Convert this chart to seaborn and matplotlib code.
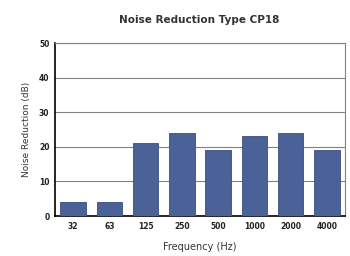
import seaborn as sns
import matplotlib.pyplot as plt
import pandas as pd

freqs = ['32', '63', '125', '250', '500', '1000', '2000', '4000']
reduction = [4, 4, 21, 24, 19, 23, 24, 19]

df = pd.DataFrame({'Frequency': freqs, 'Reduction': reduction})

sns.set_style("white")
plt.rcParams['font.family'] = ['DejaVu Sans']

fig = plt.figure(figsize=(3.5, 2.56), dpi=100)
ax = fig.add_axes([0.157, 0.156, 0.829, 0.676])

sns.barplot(x="Frequency", y="Reduction", data=df, color="#4a6298", saturation=1,
            width=0.7, edgecolor="#3a4f7e", linewidth=0.6, ax=ax, zorder=3)

ax.set_ylim(0, 50)
ax.set_yticks([0, 10, 20, 30, 40, 50])
ax.yaxis.grid(True, color="#808080", linewidth=0.8, zorder=0)
ax.set_axisbelow(True)
for s in ['top', 'right']:
    ax.spines[s].set_color("#808080")
    ax.spines[s].set_linewidth(0.8)
for s in ['left', 'bottom']:
    ax.spines[s].set_color("black")
    ax.spines[s].set_linewidth(1.2)
ax.tick_params(axis='both', labelsize=5.5, length=0, pad=4)
for lbl in ax.get_yticklabels() + ax.get_xticklabels():
    lbl.set_fontweight('bold')
    lbl.set_color('#222222')

ax.set_xlabel("Frequency (Hz)", fontsize=7, color="#333333", labelpad=8)
ax.set_ylabel("Noise Reduction (dB)", fontsize=6.5, color="#333333", labelpad=6)
fig.suptitle("Noise Reduction Type CP18", fontsize=7.5, color="#333333",
             fontweight="semibold", y=0.94, x=0.57)

fig.savefig("out.png", dpi=100)
